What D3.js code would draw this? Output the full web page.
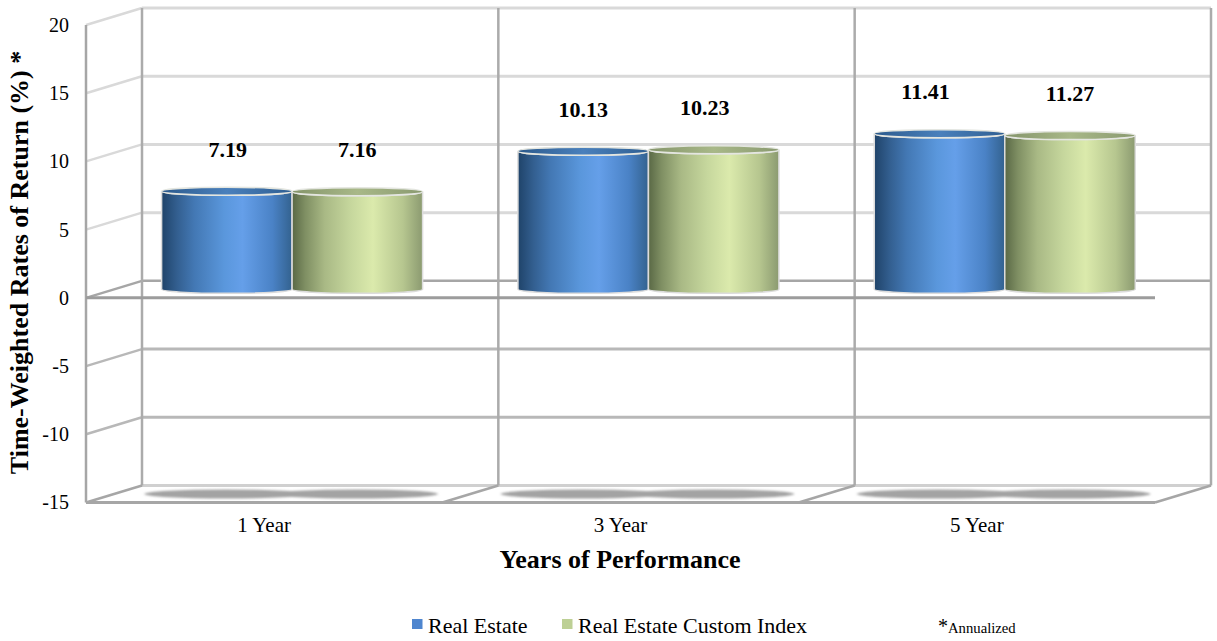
<!DOCTYPE html>
<html>
<head>
<meta charset="utf-8">
<script src="https://cdn.jsdelivr.net/npm/d3@7"></script>
<style>
html, body { margin: 0; background: #fff; }
text { font-family: "Liberation Serif", serif; fill: #000; }
</style>
</head>
<body>
<div class="chart"></div>
<script>
const categories = ["1 Year", "3 Year", "5 Year"];
const seriesNames = ["Real Estate", "Real Estate Custom Index"];
const realEstate = [7.19, 10.13, 11.41];
const customIndex = [7.16, 10.23, 11.27];
const yTicks = [-15, -10, -5, 0, 5, 10, 15, 20];

// small hand nudges of the value labels, as in the picture
const labelNudge = [[1, 0], [0, -9], [-14, 0]];

const depthX = 56, depthY = 17;

const svg = d3.select(".chart").append("svg")
  .attr("width", 1217)
  .attr("height", 641)
  .style("display", "block");

const x = d3.scaleBand().domain(categories).range([86, 1155]);
const xInner = d3.scaleBand().domain(seriesNames).range([47.6, 308.6]);
const y = d3.scaleLinear().domain([-15, 20]).range([502.5, 25]);

const defs = svg.append("defs");

function gradient(id, stops) {
  const g = defs.append("linearGradient").attr("id", id);
  stops.forEach(s => g.append("stop").attr("offset", s[0]).attr("stop-color", s[1]));
}
gradient("bodyBlue", [[0, "#1f4369"], [0.12, "#335f90"], [0.25, "#4378b4"], [0.48, "#5a97dc"], [0.62, "#659fe9"], [0.85, "#4a82c6"], [1, "#33628f"]]);
gradient("bodyGreen", [[0, "#596845"], [0.1, "#7f8f63"], [0.25, "#a9b985"], [0.45, "#c6d79d"], [0.62, "#dbeaac"], [0.85, "#b6c68f"], [1, "#8b9a70"]]);
gradient("topBlue", [[0, "#2c5a8c"], [0.5, "#4a80bc"], [1, "#2f5f92"]]);
gradient("topGreen", [[0, "#84946a"], [0.5, "#a8b888"], [1, "#8a9a70"]]);

defs.append("filter").attr("id", "soft")
  .attr("x", "-10%").attr("y", "-60%").attr("width", "120%").attr("height", "220%")
  .append("feGaussianBlur").attr("stdDeviation", "1.6 0.8");

// back wall grid lines
const gridColor = d => d === 0 ? "#a6a6a6" : (d < 0 ? "#b8b8b8" : "#d9d9d9");
const xLeft = x.range()[0], xRight = x.range()[1];

svg.append("g").selectAll("line")
  .data(yTicks.filter(d => d !== -15))
  .join("line")
  .attr("x1", xLeft + depthX)
  .attr("x2", xRight + depthX)
  .attr("y1", d => y(d) - depthY)
  .attr("y2", d => y(d) - depthY)
  .attr("stroke", gridColor)
  .attr("stroke-width", d => d === 0 ? 2.5 : 3);

svg.append("line")
  .attr("x1", xLeft + depthX).attr("x2", xRight + depthX)
  .attr("y1", y(-15) - depthY).attr("y2", y(-15) - depthY)
  .attr("stroke", "#d0d0d0").attr("stroke-width", 3);

// side wall lines
svg.append("g").selectAll("line")
  .data(yTicks.filter(d => d !== -15))
  .join("line")
  .attr("x1", xLeft)
  .attr("x2", xLeft + depthX)
  .attr("y1", d => y(d))
  .attr("y2", d => y(d) - depthY)
  .attr("stroke", gridColor)
  .attr("stroke-width", 2.5);

// back vertical lines, one per category edge
const edges = categories.map(c => x(c)).concat([xRight]);
svg.append("g").selectAll("line")
  .data(edges)
  .join("line")
  .attr("x1", d => d + depthX)
  .attr("x2", d => d + depthX)
  .attr("y1", y(20) - depthY)
  .attr("y2", y(-15) - depthY)
  .attr("stroke", "#ababab")
  .attr("stroke-width", 2.5);

// floor lines, front to back
svg.append("g").selectAll("line")
  .data(edges)
  .join("line")
  .attr("x1", d => d)
  .attr("x2", d => d + depthX)
  .attr("y1", y(-15))
  .attr("y2", y(-15) - depthY)
  .attr("stroke", "#a6a6a6")
  .attr("stroke-width", 2.5);

// front frame
svg.append("line")
  .attr("x1", xLeft).attr("x2", xLeft)
  .attr("y1", y(20)).attr("y2", y(-15))
  .attr("stroke", "#a6a6a6").attr("stroke-width", 2.5);
svg.append("line")
  .attr("x1", xLeft).attr("x2", xRight)
  .attr("y1", y(-15)).attr("y2", y(-15))
  .attr("stroke", "#a6a6a6").attr("stroke-width", 3);

// bars as rows of category, series, value
const rows = [];
categories.forEach((c, i) => {
  rows.push({ cat: c, i: i, s: seriesNames[0], value: realEstate[i], body: "bodyBlue", top: "topBlue" });
  rows.push({ cat: c, i: i, s: seriesNames[1], value: customIndex[i], body: "bodyGreen", top: "topGreen" });
});
const ry = 4;
const barX = d => x(d.cat) + depthX / 2 + xInner(d.s);
const barW = xInner.bandwidth();
const zeroY = y(0) - depthY / 2;
const topY = d => y(d.value) - depthY / 2;

// front zero line runs behind the bar feet
svg.append("line")
  .attr("x1", xLeft).attr("x2", xRight)
  .attr("y1", y(0)).attr("y2", y(0))
  .attr("stroke", "#9c9c9c").attr("stroke-width", 3);

// floor shadows
svg.append("g").attr("filter", "url(#soft)").selectAll("ellipse")
  .data(rows)
  .join("ellipse")
  .attr("cx", d => barX(d) + barW / 2 - 1)
  .attr("cy", y(-15) - depthY / 2)
  .attr("rx", barW / 2 + 16)
  .attr("ry", 4.5)
  .attr("fill", "#a3a3a3");

const bars = svg.append("g").selectAll("g")
  .data(rows)
  .join("g");

bars.append("path")
  .attr("d", d => {
    const a = barX(d), b = a + barW;
    return `M${a},${topY(d)}L${a},${zeroY}A${barW / 2},${ry} 0 0 0 ${b},${zeroY}L${b},${topY(d)}A${barW / 2},${ry} 0 0 1 ${a},${topY(d)}Z`;
  })
  .attr("fill", d => `url(#${d.body})`)
  .attr("stroke", "#dcdcdc")
  .attr("stroke-width", 1.5);

bars.append("ellipse")
  .attr("cx", d => barX(d) + barW / 2)
  .attr("cy", topY)
  .attr("rx", barW / 2)
  .attr("ry", ry)
  .attr("fill", d => `url(#${d.top})`)
  .attr("stroke", "#e4e6e0")
  .attr("stroke-width", 1.5);

// value labels
svg.append("g").selectAll("text")
  .data(rows)
  .join("text")
  .attr("x", (d, i) => barX(d) + barW / 2 + (labelNudge[d.i][i % 2]))
  .attr("y", d => topY(d) - 34.5)
  .attr("text-anchor", "middle")
  .attr("font-size", 22)
  .attr("font-weight", "bold")
  .text(d => d.value.toFixed(2));

// axes
const yAxis = d3.axisLeft(y).tickValues(yTicks).tickSize(0).tickPadding(0).tickFormat(d => String(d));
svg.append("g")
  .attr("transform", "translate(69,0)")
  .call(yAxis)
  .call(g => g.select(".domain").remove())
  .call(g => g.selectAll("text").style("font-family", '"Liberation Serif", serif').attr("font-size", 20).attr("fill", "#000"));

const xAxis = d3.axisBottom(x).tickSize(0).tickPadding(0);
svg.append("g")
  .attr("transform", "translate(0,517)")
  .call(xAxis)
  .call(g => g.select(".domain").remove())
  .call(g => g.selectAll("text").style("font-family", '"Liberation Serif", serif').attr("font-size", 21).attr("fill", "#000"));

svg.append("text")
  .attr("x", 620).attr("y", 567.5)
  .attr("text-anchor", "middle")
  .attr("font-size", 26).attr("font-weight", "bold")
  .text("Years of Performance");

svg.append("text")
  .attr("transform", "translate(28,262.5) rotate(-90)")
  .attr("text-anchor", "middle")
  .attr("font-size", 26).attr("font-weight", "bold")
  .text("Time-Weighted Rates of Return (%) *");

// legend
const legendX = [412, 562];
const legendColors = ["#4f86cf", "#bdd095"];
const legend = svg.append("g").selectAll("g")
  .data(seriesNames)
  .join("g")
  .attr("transform", (d, i) => `translate(${legendX[i]},0)`);
legend.append("rect")
  .attr("y", 619).attr("width", 10.5).attr("height", 10)
  .attr("fill", (d, i) => legendColors[i]);
legend.append("text")
  .attr("x", 16).attr("y", 633)
  .attr("font-size", 22)
  .text(d => d);

const note = svg.append("text").attr("x", 938).attr("y", 633);
note.append("tspan").attr("font-size", 20).text("*");
note.append("tspan").attr("font-size", 14.7).text("Annualized");
</script>
</body>
</html>
